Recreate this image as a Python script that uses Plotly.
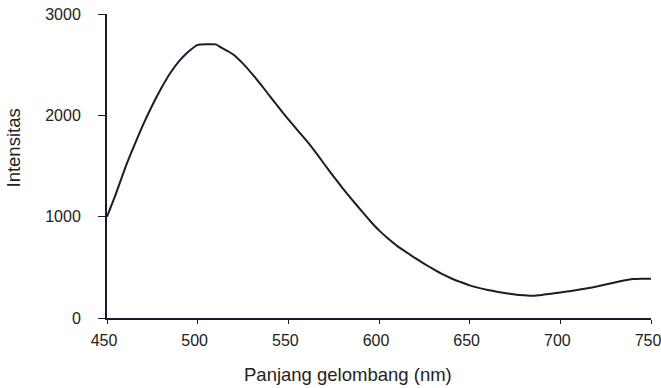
import plotly.graph_objects as go

wavelength = [450, 455, 460, 465, 470, 475, 480, 485, 490, 495, 500, 505, 510,
              513, 517, 520, 525, 530, 535, 540, 545, 550, 555, 560, 565, 570, 575,
              580, 585, 590, 595, 600, 605, 610, 615, 620, 625, 630, 635, 640, 645,
              650, 655, 660, 665, 670, 675, 680, 685, 690, 695, 700, 705, 710, 715,
              720, 725, 730, 735, 740, 745, 750]
intensity = [1000, 1230, 1480, 1700, 1910, 2100, 2270, 2420, 2540, 2630, 2695, 2702, 2700,
             2668, 2630, 2595, 2510, 2410, 2300, 2185, 2070, 1960, 1855, 1750, 1638, 1515, 1395,
             1280, 1170, 1065, 960, 865, 785, 712, 650, 590, 535, 482, 432, 390, 355,
             322, 297, 277, 260, 245, 233, 225, 220, 228, 240, 252, 264, 278, 293,
             310, 330, 350, 370, 385, 388, 388]

x_ticks = [450, 500, 550, 600, 650, 700, 750]
y_ticks = [0, 1000, 2000, 3000]
x_title = "Panjang gelombang (nm)"
y_title = "Intensitas"

W, H = 661, 388
L, R, T, B = 107, 10, 14, 70
pw, ph = W - L - R, H - T - B

fig = go.Figure()
fig.add_trace(go.Scatter(x=wavelength, y=intensity, mode="lines",
                         line=dict(color="#1c1a2e", width=2, shape="spline", smoothing=0.5),
                         showlegend=False))

font = dict(family="Liberation Sans, Arial, sans-serif", size=16, color="#222222")
fig.update_layout(
    width=W, height=H,
    margin=dict(l=L, r=R, t=T, b=B),
    paper_bgcolor="white", plot_bgcolor="white",
    font=font,
)
fig.update_xaxes(range=[450, 750], tickvals=x_ticks, ticks="outside", ticklen=4,
                 tickcolor="#1c1a2e", showline=True, linecolor="#1c1a2e", linewidth=2,
                 showgrid=False, zeroline=False, automargin=False,
                 ticklabelstandoff=3, ticklabelshift=-3, ticklabeloverflow="allow")
fig.update_yaxes(range=[0, 3000], tickvals=y_ticks, ticks="outside", ticklen=7,
                 tickcolor="#1c1a2e", showline=True, linecolor="#1c1a2e", linewidth=2,
                 showgrid=False, zeroline=False, automargin=False,
                 ticklabelstandoff=14, ticklabeloverflow="allow")

fig.add_annotation(text=x_title, xref="paper", yref="paper",
                   x=(348 - L) / pw, y=(T + ph - 374) / ph,
                   xanchor="center", yanchor="middle", showarrow=False,
                   font=dict(size=18.5))
fig.add_annotation(text=y_title, xref="paper", yref="paper",
                   x=(12.5 - L) / pw, y=(T + ph - 148) / ph, textangle=-90,
                   xanchor="center", yanchor="middle", showarrow=False,
                   font=dict(size=18.5))

fig.write_html("out.html", config={"displayModeBar": False},
               post_script="document.body.style.margin='0';")
